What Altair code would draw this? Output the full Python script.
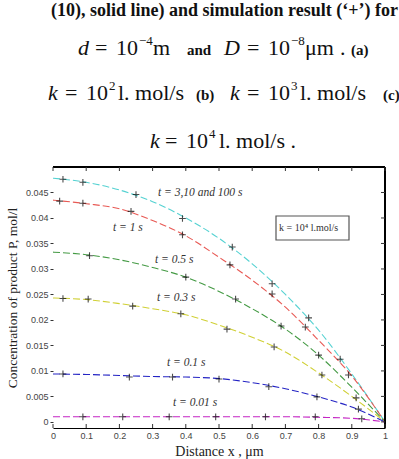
import altair as alt
import pandas as pd

# ---------------- data ----------------
x_grid = [0.0, 0.1, 0.2, 0.3, 0.4, 0.5, 0.6, 0.7, 0.8, 0.9, 1.0]
series_names = ["t=3,10,100s", "t=1s", "t=0.5s", "t=0.3s", "t=0.1s", "t=0.01s"]
series_colors = ["#55d2d2", "#e85a55", "#449a44", "#d0d035", "#2424c4", "#c424c4"]

y_t3 = [0.0478, 0.0470, 0.0455, 0.0432, 0.0400, 0.0360, 0.0310, 0.0250, 0.0180, 0.0094, 0.0]
y_t1 = [0.0435, 0.0428, 0.0418, 0.0395, 0.0365, 0.0323, 0.0278, 0.0225, 0.0160, 0.0090, 0.0]
y_t05 = [0.0333, 0.0328, 0.0318, 0.0303, 0.0284, 0.0256, 0.0222, 0.0182, 0.0131, 0.0068, 0.0]
y_t03 = [0.0243, 0.0240, 0.0232, 0.0222, 0.0210, 0.0190, 0.0166, 0.0137, 0.0096, 0.0050, 0.0]
y_t01 = [0.0094, 0.0093, 0.0091, 0.0089, 0.0088, 0.0085, 0.0077, 0.0065, 0.0049, 0.0029, 0.0]
y_t001 = [0.0010, 0.0010, 0.0010, 0.0010, 0.0010, 0.0010, 0.0010, 0.0010, 0.0009, 0.0007, 0.0]

# simulation points ('+')
sim_t3_x = [0.03, 0.09, 0.25, 0.39, 0.54, 0.66, 0.77, 0.89]
sim_t3_y = [0.0476, 0.0470, 0.0446, 0.0399, 0.0343, 0.0271, 0.0204, 0.0092]
sim_t1_x = [0.02, 0.09, 0.235, 0.39, 0.533, 0.66, 0.76, 0.865]
sim_t1_y = [0.0433, 0.0429, 0.0413, 0.0367, 0.0308, 0.0251, 0.0186, 0.0123]
sim_t05_x = [0.11, 0.40, 0.55, 0.687, 0.80]
sim_t05_y = [0.0326, 0.0284, 0.0241, 0.0188, 0.0131]
sim_t03_x = [0.03, 0.106, 0.24, 0.385, 0.524, 0.666, 0.81, 0.913]
sim_t03_y = [0.0242, 0.0241, 0.0227, 0.0212, 0.0182, 0.0147, 0.0092, 0.0047]
sim_t01_x = [0.03, 0.23, 0.36, 0.50, 0.65, 0.795, 0.92]
sim_t01_y = [0.0094, 0.0088, 0.0088, 0.0084, 0.0069, 0.0049, 0.0025]
sim_t001_x = [0.09, 0.21, 0.35, 0.49, 0.64, 0.79, 0.93]
sim_t001_y = [0.0010, 0.0010, 0.0010, 0.0010, 0.0010, 0.0010, 0.0006]

x_ticks = [0, 0.1, 0.2, 0.3, 0.4, 0.5, 0.6, 0.7, 0.8, 0.9, 1]
y_ticks = [0, 0.005, 0.01, 0.015, 0.02, 0.025, 0.03, 0.035, 0.04, 0.045]

# ---------------- tables ----------------
curves = [y_t3, y_t1, y_t05, y_t03, y_t01, y_t001]
rows = []
for name, ys_ in zip(series_names, curves):
    for xv, yv in zip(x_grid, ys_):
        rows.append({"series": name, "x": xv, "y": yv})
df_lines = pd.DataFrame(rows)

sims = [(sim_t3_x, sim_t3_y), (sim_t1_x, sim_t1_y), (sim_t05_x, sim_t05_y),
        (sim_t03_x, sim_t03_y), (sim_t01_x, sim_t01_y), (sim_t001_x, sim_t001_y)]
prow = []
for name, (xs_, ys_) in zip(series_names, sims):
    for xv, yv in zip(xs_, ys_):
        prow.append({"series": name, "x": xv, "y": yv})
df_pts = pd.DataFrame(prow)
df_xt = pd.DataFrame({"x": x_ticks})
df_yt = pd.DataFrame({"y": y_ticks})

# ---------------- layout ----------------
W, H = 332, 261
LEFT, TOP = 53, 167
SERIF = "Liberation Serif"
SANS = "Liberation Sans"

xs = alt.Scale(domain=[0, 1], nice=False, zero=False)
ys = alt.Scale(domain=[-0.0012, 0.05], nice=False, zero=False)

x_axis = alt.Axis(
    values=x_ticks, format="~g", ticks=False, grid=False, domain=True,
    domainColor="#000", domainWidth=1, labelFont=SANS, labelFontSize=9,
    labelColor="#444", labelPadding=3, labelOverlap=False, labelFlush=False,
    title="Distance x , μm",
    titleFont=SERIF, titleFontSize=14, titleFontWeight="normal",
    titleColor="#222", titlePadding=4)
y_axis = alt.Axis(
    values=y_ticks, format="~g", ticks=True, tickSize=3, tickColor="#333",
    grid=False, domain=False, labelFont=SANS, labelFontSize=9,
    labelColor="#444", labelPadding=2, labelOverlap=False, labelFlush=False,
    title="Concentration of product P, mol/l",
    titleFont=SERIF, titleFontSize=13.5, titleFontWeight="normal",
    titleColor="#222", titlePadding=6)

X = alt.X("x:Q", scale=xs, axis=x_axis)
Y = alt.Y("y:Q", scale=ys, axis=y_axis)

lines = alt.Chart(df_lines).mark_line(
    strokeDash=[7, 3], strokeWidth=1.1, interpolate="monotone"
).encode(
    x=X, y=Y,
    color=alt.Color("series:N", scale=alt.Scale(domain=series_names, range=series_colors), legend=None),
    detail="series:N",
)

pts = alt.Chart(df_pts).mark_point(
    shape="M-1,0L1,0M0,-1L0,1", size=45, stroke="#000", strokeWidth=1.1, filled=False
).encode(x=X, y=Y)

# frame (top and right) and inward ticks
frame_top = alt.Chart(df_xt).mark_rule(color="#000", strokeWidth=1).encode(
    x=alt.value(0), x2=alt.value(W), y=alt.value(0))
frame_right = alt.Chart(df_xt).mark_rule(color="#000", strokeWidth=1).encode(
    x=alt.value(W), y=alt.value(0), y2=alt.value(H))
tick_top = alt.Chart(df_xt).mark_rule(color="#333").encode(
    x=X, y=alt.value(0), y2=alt.value(4))
tick_bot = alt.Chart(df_xt).mark_rule(color="#333").encode(
    x=X, y=alt.value(H - 4), y2=alt.value(H))
tick_right = alt.Chart(df_yt).mark_rule(color="#333").encode(
    y=Y, x=alt.value(W - 4), x2=alt.value(W))


def txt(s, gx, gy, size=10, font=SERIF, style="normal", weight="normal",
        align="left", baseline="alphabetic", color="#111"):
    return alt.Chart(df_xt).transform_filter("datum.x == 0").mark_text(
        text=s, font=font, fontSize=size, fontStyle=style, fontWeight=weight,
        align=align, baseline=baseline, color=color
    ).encode(x=alt.value(gx - LEFT), y=alt.value(gy - TOP))


A = 11.5
ann = [
    txt("t = 3,10 and 100 s", 158, 193, size=A, style="italic", baseline="middle", color="#333"),
    txt("t = 1 s", 113, 228, size=A, style="italic", baseline="middle", color="#333"),
    txt("t = 0.5 s", 155, 260, size=A, style="italic", baseline="middle", color="#333"),
    txt("t = 0.3 s", 157, 298, size=A, style="italic", baseline="middle", color="#333"),
    txt("t = 0.1 s", 167, 363, size=A, style="italic", baseline="middle", color="#333"),
    txt("t = 0.01 s", 173, 403, size=A, style="italic", baseline="middle", color="#333"),
    txt("k = 10⁴ l.mol/s", 279, 228, size=10, baseline="middle", color="#333"),
]
box = alt.Chart(df_xt).transform_filter("datum.x == 0").mark_rect(
    fill="white", stroke="#555", strokeWidth=1.2
).encode(x=alt.value(276 - LEFT), x2=alt.value(349 - LEFT),
         y=alt.value(216 - TOP), y2=alt.value(240 - TOP))

# header text
M = 22   # math size
S = 13   # superscript size
B = 15   # bold small size
hdr = [
    txt("(10), solid line) and simulation result (‘+’) for", 51, 16, size=18, weight="bold"),
    # line 2
    txt("d", 78, 55, size=M, style="italic"),
    txt("=", 95, 55, size=M),
    txt("10", 116, 55, size=M),
    txt("−4", 139, 45, size=S),
    txt("m", 153, 55, size=M),
    txt("and", 187, 55, size=B, weight="bold"),
    txt("D", 224, 55, size=M, style="italic"),
    txt("=", 247, 55, size=M),
    txt("10", 268, 55, size=M),
    txt("−8", 291, 45, size=S),
    txt("μm", 305, 55, size=M),
    txt(".", 340, 55, size=M),
    txt("(a)", 351, 55, size=B, weight="bold"),
    # line 3
    txt("k", 48, 100, size=M, style="italic"),
    txt("=", 65, 100, size=M),
    txt("10", 86, 100, size=M),
    txt("2", 109, 90, size=S),
    txt("l. mol/s", 118, 100, size=M),
    txt("(b)", 196, 100, size=B, weight="bold"),
    txt("k", 230, 100, size=M, style="italic"),
    txt("=", 247, 100, size=M),
    txt("10", 268, 100, size=M),
    txt("3", 291, 90, size=S),
    txt("l. mol/s", 300, 100, size=M),
    txt("(c)", 383, 100, size=B, weight="bold"),
    # line 4
    txt("k", 150, 148, size=M, style="italic"),
    txt("=", 165, 148, size=M),
    txt("10", 186, 148, size=M),
    txt("4", 209, 138, size=S),
    txt("l. mol/s .", 219, 148, size=M),
]

chart = alt.layer(
    lines, pts, frame_top, frame_right, tick_top, tick_bot, tick_right, box, *ann, *hdr
).properties(
    width=W, height=H,
    autosize=alt.AutoSizeParams(type="none"),
    padding={"left": LEFT, "top": TOP, "right": 399 - LEFT - W, "bottom": 459 - TOP - H},
    background="white",
).configure_view(stroke=None)

chart.save("out.html", embed_options={"renderer": "svg", "actions": False})
